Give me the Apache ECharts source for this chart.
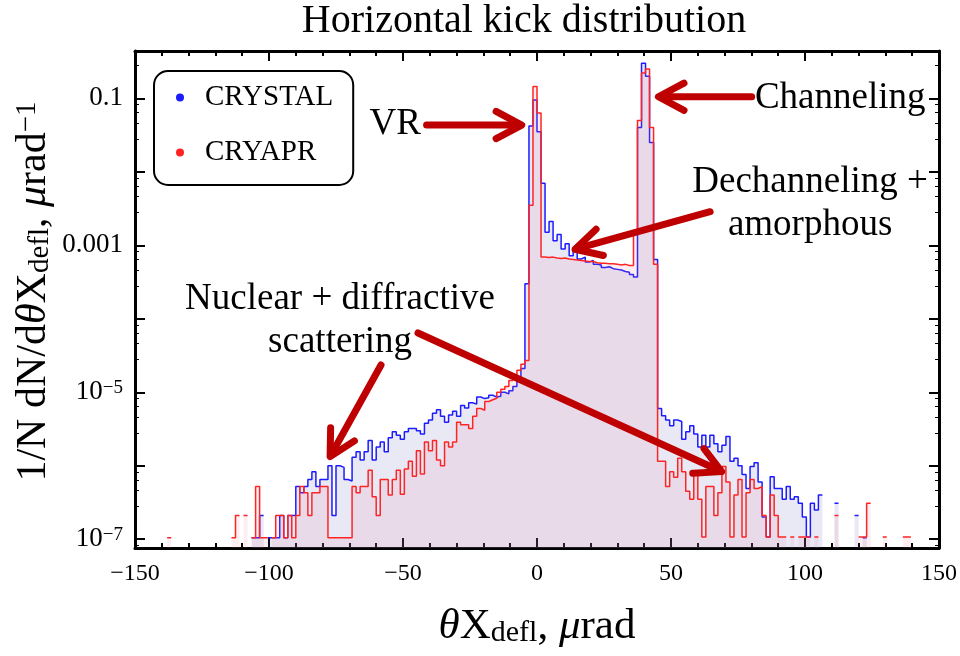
<!DOCTYPE html>
<html><head><meta charset="utf-8">
<script src="https://cdn.jsdelivr.net/npm/echarts@6.0.0/dist/echarts.min.js"></script>
<style>html,body{margin:0;padding:0;background:#fff}#c{width:960px;height:656px}</style>
</head><body><div id="c"></div>
<script>
// ---- data (histogram bins, width 1.5 µrad starting at -150 µrad) ----
const BIN_START = -150;
const BIN_WIDTH = 1.5;
const seriesNames = ['CRYSTAL', 'CRYAPR'];
const xTickValues = [-150, -100, -50, 0, 50, 100, 150];
const yTickLabels = ['0.1', '0.001', '10^-5', '10^-7'];

const crystal = [
  null,null,null,null,null,null,null,null,null,null,
  null,null,null,null,null,null,null,null,null,null,
  null,null,null,null,null,null,null,null,null,1.05e-7,
  1.05e-7,2.1e-7,null,1.05e-7,1.05e-7,1.05e-7,2.1e-7,1.05e-7,2.1e-7,2.1e-7,
  5.2e-7,4.3e-7,5.2e-7,6.5e-7,8.3e-7,5.2e-7,6.5e-7,6.5e-7,1.0e-6,2.1e-7,
  1.0e-6,9.5e-7,6.5e-7,6.2e-7,1.3e-6,1.55e-6,1.2e-6,1.55e-6,2.2e-6,1.2e-6,
  1.8e-6,2.1e-6,1.55e-6,2.4e-6,2.9e-6,2.6e-6,2.3e-6,2.9e-6,3.2e-6,3.2e-6,
  3.0e-6,2.7e-6,3.8e-6,4.2e-6,5.2e-6,5.8e-6,4.7e-6,3.9e-6,4.9e-6,5.5e-6,
  4.7e-6,6.6e-6,6.1e-6,7.2e-6,6.9e-6,8.6e-6,8.2e-6,8.4e-6,9.1e-6,8.6e-6,
  8.8e-6,1.0e-5,9.5e-6,1.05e-5,1.2e-5,1.4e-5,2.1e-5,3.0e-4,0.042,0.095,
  0.035,7.0e-3,1.5e-3,2.1e-3,1.15e-3,1.4e-3,8.9e-4,1.05e-3,7.2e-4,8.5e-4,
  6.5e-4,6.9e-4,5.9e-4,6.2e-4,5.5e-4,5.4e-4,5.0e-4,5.1e-4,4.8e-4,4.7e-4,
  4.6e-4,4.4e-4,4.3e-4,4.0e-4,3.7e-4,0.04,0.3,0.2,0.025,6.4e-4,
  6.0e-6,4.8e-6,4.2e-6,3.5e-6,4.2e-6,4.0e-6,2.3e-6,2.9e-6,3.5e-6,2.7e-6,
  1.8e-6,2.6e-6,1.8e-6,2.6e-6,2.0e-6,1.55e-6,1.9e-6,2.5e-6,1.15e-6,1.26e-6,
  1.0e-6,7.6e-7,4.9e-7,9.8e-7,1.1e-6,6.0e-7,2.0e-7,1.07e-7,7.1e-7,4.9e-7,
  4.9e-7,3.5e-7,5.2e-7,3.5e-7,3.8e-7,3.1e-7,2.0e-7,1.07e-7,3.1e-7,2.5e-7,
  4.0e-7,null,null,null,3.1e-7,null,null,null,null,2.1e-7,
  null,1.05e-7,null,null,null,null,null,null,null,null,
  null,null,null,null,null,null,null,null,null,null
];

const cryapr = [
  null,null,null,null,null,null,null,null,1.05e-7,null,
  null,null,null,null,null,null,null,null,null,null,
  null,null,null,null,1.05e-7,2.1e-7,null,2.1e-7,null,1.05e-7,
  5.2e-7,1.05e-7,1.05e-7,null,1.05e-7,2.1e-7,2.1e-7,1.05e-7,2.1e-7,1.05e-7,
  2.1e-7,5.2e-7,4.3e-7,2.1e-7,4.3e-7,4.3e-7,5.2e-7,5.2e-7,1.05e-7,1.05e-7,
  1.05e-7,1.05e-7,1.05e-7,1.05e-7,5.2e-7,4.3e-7,5.2e-7,5.2e-7,8.7e-7,3.8e-7,
  2.1e-7,6.5e-7,6.5e-7,4.0e-7,6.5e-7,8.7e-7,4.1e-7,9.0e-7,1.15e-6,7.2e-7,
  1.6e-6,7.7e-7,2.1e-6,1.6e-6,2.2e-6,1.2e-6,1.0e-6,2.1e-6,1.8e-6,2.1e-6,
  3.9e-6,3.6e-6,3.6e-6,3.2e-6,4.7e-6,6.0e-6,5.7e-6,7.5e-6,7.9e-6,8.3e-6,
  1.0e-5,1.1e-5,1.2e-5,1.45e-5,1.6e-5,2.0e-5,2.4e-5,2.7e-5,3.5e-3,0.145,
  0.063,6.9e-4,6.8e-4,6.9e-4,6.7e-4,6.6e-4,6.7e-4,6.5e-4,6.4e-4,6.3e-4,
  6.2e-4,6.1e-4,6.0e-4,6.0e-4,5.8e-4,5.7e-4,5.7e-4,5.6e-4,5.6e-4,5.5e-4,
  5.4e-4,5.5e-4,5.3e-4,5.3e-4,1.5e-3,0.05,0.22,0.25,0.04,5.5e-4,
  1.15e-6,1.15e-6,5.2e-7,8.3e-7,7.0e-7,1.26e-6,8.3e-7,4.5e-7,3.5e-7,8.3e-7,
  3.5e-7,1.07e-7,5.2e-7,5.2e-7,2.1e-7,4.3e-7,9.8e-7,6.0e-7,1.07e-7,4.0e-7,
  6.5e-7,1.07e-7,4.3e-7,6.5e-7,4.9e-7,5.2e-7,2.1e-7,1.07e-7,4.0e-7,2.1e-7,
  1.07e-7,1.07e-7,null,1.07e-7,null,1.07e-7,1.07e-7,1.07e-7,null,1.07e-7,
  null,null,null,null,2.1e-7,null,null,null,null,null,
  1.07e-7,1.07e-7,3.1e-7,null,null,null,1.07e-7,null,null,null,
  null,1.07e-7,1.07e-7,null,null,null,null,null,null,null
];

// annotation arrows (tail -> tip) and texts, in data coordinates
const arrowTails = [[-41.2, 0.0432], [80.1, 0.105], [64.6, 2.86e-3], [-58.2, 2.35e-5], [-44.4, 6.41e-5]];
const arrowTips  = [[-5.7, 0.0432], [45.3, 0.105], [14.2, 8.83e-4], [-77.2, 1.33e-6], [68.9, 8.32e-7]];
const noteTexts = ['VR', 'Channeling', 'Dechanneling +\namorphous', 'Nuclear + diffractive\nscattering'];
const noteAnchors = [[-43.3, 0.044], [81.3, 0.101], [101.9, 3.63e-3], [-73.5, 9.3e-5]];
const noteAlign = ['right', 'left', 'center', 'center'];

// ---- build ----
const FONT = 'Liberation Serif';
function toPoints(vals) {
  const pts = [];
  vals.forEach((v, i) => {
    const x0 = BIN_START + i * BIN_WIDTH;
    if (v == null) { pts.push([x0, '-']); }
    else { pts.push([x0, v], [BIN_START + (i + 1) * BIN_WIDTH, v]); }
  });
  return pts;
}
function yFmt(v) {
  const e = Math.log10(v);
  const r = Math.round(e);
  if (Math.abs(e - r) > 1e-6 || r % 2 === 0) return '';
  const lab = yTickLabels.find(s => s === (r >= -3 ? Math.pow(10, r).toFixed(-r) : '10^' + r));
  if (!lab) return '';
  if (lab.indexOf('^') >= 0) { const p = lab.split('^'); return '{b|' + p[0] + '}{s|\u2212' + p[1].replace('-', '') + '}'; }
  return '{b|' + lab + '}';
}
const chart = echarts.init(document.getElementById('c'), null, {renderer: 'canvas'});
const commonX = { type: 'value', min: -150, max: 150, interval: 50 };
const commonY = { type: 'log', min: 7.6e-8, max: 0.44, splitNumber: 7 };
const axisLine = { show: true, onZero: false, lineStyle: { color: '#000', width: 3 } };
chart.setOption({
  animation: false,
  backgroundColor: '#fff',
  title: { text: 'Horizontal kick distribution', left: 524, top: 1, textAlign: 'center', padding: 0,
    textStyle: { fontFamily: FONT, fontSize: 40, fontWeight: 'normal', color: '#000' } },
  legend: {
    data: seriesNames, orient: 'vertical', left: 154, top: 71, icon: 'circle',
    itemWidth: 8, itemHeight: 8, itemGap: 26,
    padding: [12, 20, 18, 22], borderColor: '#000', borderWidth: 2, borderRadius: 14,
    backgroundColor: '#fff',
    textStyle: { fontFamily: FONT, fontSize: 29, color: '#000', padding: [0, 0, 0, 16] }
  },
  grid: { left: 135, right: 21, top: 51, bottom: 108, containLabel: false, outerBoundsMode: 'none' },
  xAxis: [
    Object.assign({}, commonX, {
      position: 'bottom', axisLine, nameMoveOverlap: false,
      axisTick: { inside: true, length: 10, lineStyle: { color: '#000', width: 2 } },
      minorTick: { show: true, splitNumber: 5, length: 5, lineStyle: { color: '#000', width: 2 } },
      splitLine: { show: false },
      axisLabel: { margin: 14, fontFamily: FONT, fontSize: 24, color: '#000',
        formatter: v => xTickValues.indexOf(v) >= 0 ? (v < 0 ? '\u2212' + Math.abs(v) : String(v)) : '' },
      name: '{i|\u03b8}X{sub|defl}, {i|\u03bc}rad', nameLocation: 'middle', nameGap: 57,
      nameTextStyle: { fontFamily: FONT, fontSize: 43, color: '#000',
        rich: { i: { fontFamily: FONT, fontSize: 43, fontStyle: 'italic' },
                sub: { fontFamily: FONT, fontSize: 30, verticalAlign: 'bottom' } } }
    }),
    Object.assign({}, commonX, {
      position: 'top', axisLine,
      axisTick: { inside: true, length: 10, lineStyle: { color: '#000', width: 2 } },
      minorTick: { show: true, splitNumber: 5, length: 5, lineStyle: { color: '#000', width: 2 } },
      splitLine: { show: false }, axisLabel: { show: false }
    })
  ],
  yAxis: [
    Object.assign({}, commonY, {
      position: 'left', axisLine, nameMoveOverlap: false,
      axisTick: { inside: true, length: 10, lineStyle: { color: '#000', width: 2 } },
      minorTick: { show: true, splitNumber: 5, length: 4, lineStyle: { color: '#000', width: 1 } },
      splitLine: { show: false },
      axisLabel: { margin: 12, fontFamily: FONT, fontSize: 27, color: '#000', formatter: yFmt,
        showMinLabel: false, showMaxLabel: false,
        rich: { b: { fontFamily: FONT, fontSize: 27, color: '#000' }, s: { fontFamily: FONT, fontSize: 19, color: '#000', verticalAlign: 'top' } } },
      name: '1/N dN/d{i|\u03b8}X{sub|defl}, {i|\u03bc}rad{sup|\u22121}', nameLocation: 'middle', nameGap: 80,
      nameTextStyle: { fontFamily: FONT, fontSize: 42, color: '#000', padding: [0, 0, 0, 16],
        rich: { i: { fontFamily: FONT, fontSize: 42, fontStyle: 'italic' },
                sub: { fontFamily: FONT, fontSize: 29, verticalAlign: 'bottom' },
                sup: { fontFamily: FONT, fontSize: 29, verticalAlign: 'top' } } }
    }),
    Object.assign({}, commonY, {
      position: 'right', axisLine,
      axisTick: { inside: true, length: 10, lineStyle: { color: '#000', width: 2 } },
      minorTick: { show: true, splitNumber: 5, length: 4, lineStyle: { color: '#000', width: 1 } },
      splitLine: { show: false }, axisLabel: { show: false }
    })
  ],
  series: [
    { name: seriesNames[0], type: 'line', data: toPoints(crystal), showSymbol: false, symbol: 'none',
      color: '#1c1cff', lineStyle: { color: '#1c1cff', width: 1.5 },
      areaStyle: { color: 'rgba(100,100,190,0.14)', opacity: 1, origin: 'start' }, z: 2 },
    { name: seriesNames[1], type: 'line', data: toPoints(cryapr), showSymbol: false, symbol: 'none',
      color: '#ff2424', lineStyle: { color: '#ff2424', width: 1.5 },
      areaStyle: { color: 'rgba(230,120,150,0.13)', opacity: 1, origin: 'start' }, z: 3 }
  ]
});

// annotations
const ARROW = '#bf0000';
const g = [];
function px(p) { return chart.convertToPixel({ xAxisIndex: 0, yAxisIndex: 0 }, p); }
arrowTails.forEach((t, k) => {
  const a = px(t), b = px(arrowTips[k]);
  const dx = b[0] - a[0], dy = b[1] - a[1], L = Math.hypot(dx, dy);
  const ux = -dx / L, uy = -dy / L, th = 28 * Math.PI / 180, W = 29;
  const w1 = [b[0] + W * (ux * Math.cos(th) - uy * Math.sin(th)), b[1] + W * (ux * Math.sin(th) + uy * Math.cos(th))];
  const w2 = [b[0] + W * (ux * Math.cos(-th) - uy * Math.sin(-th)), b[1] + W * (ux * Math.sin(-th) + uy * Math.cos(-th))];
  g.push({ type: 'line', z: 50, shape: { x1: a[0], y1: a[1], x2: b[0] + 2 * ux, y2: b[1] + 2 * uy },
    style: { stroke: ARROW, lineWidth: 7, lineCap: 'round' } });
  g.push({ type: 'polyline', z: 50, shape: { points: [w1, b, w2] },
    style: { stroke: ARROW, lineWidth: 7, lineCap: 'round', lineJoin: 'round', fill: null } });
});
noteTexts.forEach((t, k) => {
  const p = px(noteAnchors[k]);
  g.push({ type: 'text', z: 51, x: p[0], y: p[1],
    style: { text: t, fontFamily: FONT, fontSize: 37, fill: '#000', align: noteAlign[k], verticalAlign: 'middle', lineHeight: 43 } });
});
chart.setOption({ graphic: g });
</script>
</body></html>
